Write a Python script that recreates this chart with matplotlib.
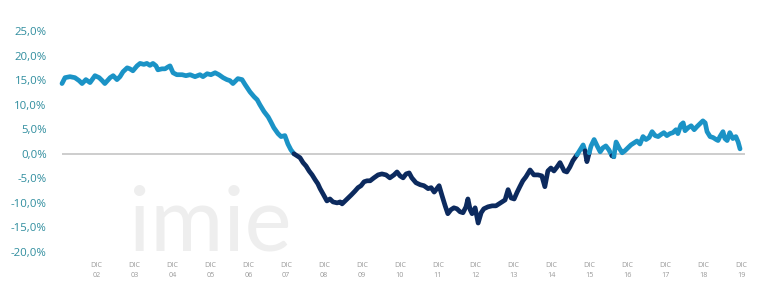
import matplotlib
matplotlib.use("Agg")
import matplotlib.pyplot as plt
import numpy as np

# decimal years and year-on-year % values
years = [2002.00,2002.08,2002.21,2002.34,2002.45,2002.53,2002.63,2002.74,2002.87,2002.98,
2003.06,2003.13,2003.27,2003.35,2003.45,2003.53,2003.61,2003.72,2003.79,2003.87,2003.98,
2004.06,2004.16,2004.24,2004.32,2004.40,2004.48,2004.53,2004.64,2004.72,2004.80,2004.85,2004.93,
2005.03,2005.17,2005.27,2005.38,2005.51,2005.64,2005.72,2005.83,2005.93,
2006.04,2006.14,2006.25,2006.35,2006.43,2006.51,2006.64,2006.75,2006.83,2006.96,
2007.07,2007.15,2007.22,2007.33,2007.44,2007.51,2007.59,2007.70,2007.78,2007.88,2007.96,
2008.04,2008.12,2008.20,2008.28,2008.36,2008.44,2008.52,2008.60,2008.68,2008.75,2008.81,2008.89,2008.99,
2009.07,2009.15,2009.26,2009.34,2009.39,2009.47,2009.55,2009.63,2009.73,2009.81,2009.89,2009.97,
2010.05,2010.13,2010.23,2010.34,2010.44,2010.55,2010.65,2010.76,2010.84,2010.92,
2011.00,2011.08,2011.16,2011.23,2011.34,2011.45,2011.55,2011.66,2011.74,2011.82,2011.89,2011.95,
2012.03,2012.11,2012.18,2012.26,2012.34,2012.42,2012.50,2012.58,2012.66,2012.71,2012.77,2012.82,2012.90,2012.98,
2013.06,2013.13,2013.24,2013.35,2013.45,2013.53,2013.61,2013.69,2013.77,2013.85,2013.93,
2014.01,2014.08,2014.16,2014.24,2014.35,2014.45,2014.56,2014.66,2014.74,2014.82,2014.90,2014.98,
2015.06,2015.14,2015.25,2015.32,2015.40,2015.48,2015.59,2015.67,2015.75,2015.80,2015.85,2015.91,2015.96,
2016.04,2016.12,2016.20,2016.27,2016.35,2016.43,2016.51,2016.56,2016.62,2016.70,2016.78,2016.85,2016.93,
2017.01,2017.09,2017.17,2017.25,2017.33,2017.41,2017.49,2017.57,2017.65,2017.73,2017.80,2017.88,2017.96,
2018.04,2018.12,2018.20,2018.25,2018.33,2018.39,2018.44,2018.52,2018.60,2018.68,2018.75,2018.83,2018.91,2018.97,
2019.02,2019.10,2019.18,2019.26,2019.31,2019.36,2019.44,2019.49,2019.55,2019.62,2019.70,2019.78,2019.84,2019.89]

values = [14.3,15.5,15.7,15.5,14.9,14.3,15.1,14.5,15.9,15.5,
14.9,14.3,15.5,15.9,15.1,15.7,16.7,17.5,17.3,16.9,17.9,
18.4,18.2,18.4,18.0,18.4,17.9,17.1,17.3,17.3,17.7,17.9,16.5,
16.1,16.1,15.9,16.1,15.7,16.1,15.7,16.3,16.1,
16.5,16.1,15.5,15.1,14.9,14.3,15.3,15.1,14.1,12.6,
11.6,11.0,10.0,8.6,7.5,6.5,5.3,4.1,3.5,3.7,2.0,
0.8,0.0,-0.4,-0.8,-1.8,-2.5,-3.5,-4.3,-5.3,-6.1,-7.1,-8.2,-9.6,
-9.2,-9.8,-10.0,-9.8,-10.2,-9.6,-9.0,-8.4,-7.6,-6.9,-6.5,-5.7,
-5.5,-5.5,-4.9,-4.3,-4.1,-4.3,-4.9,-4.3,-3.7,-4.5,
-4.9,-4.1,-3.9,-4.9,-5.9,-6.3,-6.5,-7.1,-6.9,-7.8,-7.1,-6.5,
-8.6,-10.6,-12.2,-11.4,-11.0,-11.2,-11.8,-12.0,-10.8,-9.2,-11.4,-12.2,-11.0,-14.1,
-12.0,-11.2,-10.8,-10.6,-10.6,-10.2,-9.8,-9.4,-7.3,-9.0,-9.2,
-7.8,-6.7,-5.5,-4.7,-3.3,-4.3,-4.3,-4.5,-6.7,-3.5,-2.9,-3.5,
-2.7,-1.8,-3.5,-3.7,-2.7,-1.4,-0.2,0.8,1.8,0.6,-1.6,0.2,1.6,
2.9,1.6,0.4,1.2,1.6,0.8,-0.4,-0.6,2.4,1.2,0.2,0.6,1.2,
1.8,2.2,2.6,2.0,3.5,2.9,3.3,4.5,3.7,3.5,3.9,4.3,3.7,
4.1,4.3,4.9,4.1,5.9,6.3,4.7,5.3,5.7,4.9,5.5,6.1,6.7,6.3,
4.5,3.5,3.3,2.9,2.7,3.5,4.5,3.1,2.7,4.3,3.1,3.5,2.4,1.0]

tick_years = list(range(2002, 2020))
tick_labels = ["DIC\n%02d" % (y % 100) for y in tick_years]
y_ticks = [25, 20, 15, 10, 5, 0, -5, -10, -15, -20]
y_labels = ["25,0%", "20,0%", "15,0%", "10,0%", "5,0%", "0,0%",
            "-5,0%", "-10,0%", "-15,0%", "-20,0%"]

LIGHT = "#1b93c6"
DARK = "#0c2a5e"

plt.rcParams['font.family'] = ['Open Sans', 'DejaVu Sans']

fig = plt.figure(figsize=(7.72, 2.95), dpi=100)
ax = fig.add_axes([62/772, 1 - 252/295, (745 - 62)/772, (252 - 31)/295])
ax.set_xlim(2002.0, 2002.0 + (745 - 62)/37.9)
ax.set_ylim(-20, 25)

# watermark
ax.text(0.098, 0.005, "imie", transform=ax.transAxes, fontsize=64,
        color="#eeeeee", fontweight="normal", family="Lato",
        ha="left", va="baseline", zorder=0)

ax.axhline(0, color="#c9c9c9", lw=1.3, zorder=1)

x = np.array(years)
v = np.array(values)
# color segments by sign
mid = (v[:-1] + v[1:]) / 2
sign = mid >= 0
start = 0
for i in range(1, len(sign) + 1):
    if i == len(sign) or sign[i] != sign[start]:
        col = LIGHT if sign[start] else DARK
        ax.plot(x[start:i + 1], v[start:i + 1], color=col, lw=3.4,
                solid_joinstyle="round", solid_capstyle="round",
                zorder=3, clip_on=False)
        start = i

for s in ax.spines.values():
    s.set_visible(False)

ax.set_yticks(y_ticks)
ax.set_yticklabels(y_labels, color="#2f8d9e", fontsize=8.2)
ax.tick_params(axis="y", length=0, pad=11)

ax.set_xticks([y + 11/12 for y in tick_years])
ax.set_xticklabels(tick_labels, color="#9a9a9a", fontsize=5.2, linespacing=1.7)
ax.tick_params(axis="x", length=0, pad=7)

fig.savefig("out.png", dpi=100, facecolor="white")
